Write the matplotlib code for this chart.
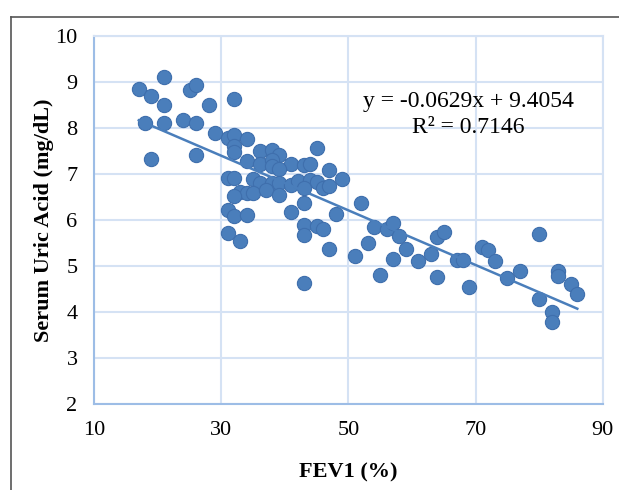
import matplotlib
matplotlib.use("Agg")
import matplotlib.pyplot as plt
import numpy as np
from matplotlib.lines import Line2D

# FEV1 (%) and serum uric acid (mg/dL)
fev1 = [17, 21, 19, 21, 25, 26, 28, 32, 18, 21, 24, 26, 29, 19, 26,
        31, 32, 34, 32, 32, 45, 36, 38, 39, 34, 36, 38, 38, 41, 43,
        44, 47, 39, 31, 32, 35, 36, 38, 39, 41, 42, 44, 45, 43, 46,
        47, 49, 33, 34, 35, 37, 39, 32, 43, 41, 48, 52, 31, 32, 34,
        43, 45, 46, 31, 33, 43, 47, 51, 43, 54, 56, 57, 58, 64, 65,
        53, 59, 57, 61, 63, 67, 68, 55, 64, 69, 71, 72, 73, 75, 77,
        80, 80, 83, 83, 82, 82, 85, 86]
uric = [8.86, 9.12, 8.71, 8.51, 8.84, 8.94, 8.50, 8.64, 8.11, 8.11, 8.17, 8.11, 7.90, 7.33, 7.43,
        7.78, 7.85, 7.77, 7.62, 7.48, 7.58, 7.50, 7.53, 7.42, 7.30, 7.23, 7.31, 7.17, 7.23, 7.21,
        7.23, 7.09, 7.12, 6.91, 6.91, 6.89, 6.82, 6.82, 6.82, 6.77, 6.86, 6.87, 6.84, 6.70, 6.70,
        6.74, 6.89, 6.62, 6.59, 6.59, 6.66, 6.54, 6.52, 6.37, 6.19, 6.13, 6.38, 6.22, 6.10, 6.12,
        5.89, 5.87, 5.81, 5.73, 5.55, 5.68, 5.37, 5.22, 4.64, 5.86, 5.81, 5.95, 5.66, 5.64, 5.75,
        5.50, 5.37, 5.16, 5.12, 5.26, 5.13, 5.13, 4.81, 4.77, 4.56, 5.43, 5.35, 5.12, 4.75, 4.90,
        5.70, 4.30, 4.90, 4.79, 4.01, 3.80, 4.61, 4.40]

x_ticks = [10, 30, 50, 70, 90]
y_ticks = [2, 3, 4, 5, 6, 7, 8, 9, 10]
eq_text = "y = -0.0629x + 9.4054"
r2_text = "R² = 0.7146"

plt.rcParams['font.family'] = ['Liberation Serif', 'DejaVu Serif']

fig = plt.figure(figsize=(6.19, 4.9), dpi=100)
ax = fig.add_axes([0.1523, 0.1749, 0.8214, 0.7510])

grid_col = '#d5e2f4'
axis_col = '#9dbde6'
pt_col = '#4a7ebb'

ax.scatter(fev1, uric, s=105, color=pt_col, edgecolor='#3f6fad', linewidth=0.8, zorder=3)

# linear trendline
coef = np.polyfit(fev1, uric, 1)
xs = np.array([min(fev1), max(fev1)])
ax.plot(xs, np.polyval(coef, xs), color='#4a7ebb', linewidth=1.8, zorder=4)

ax.set_xlim(10, 90)
ax.set_ylim(2, 10)
ax.set_xticks(x_ticks)
ax.set_yticks(y_ticks)
ax.grid(True, color=grid_col, linewidth=1.5, zorder=0)
ax.set_axisbelow(True)
for s in ['top', 'right']:
    ax.spines[s].set_color(grid_col)
    ax.spines[s].set_linewidth(1.5)
for s in ['left', 'bottom']:
    ax.spines[s].set_color(axis_col)
    ax.spines[s].set_linewidth(1.5)
ax.tick_params(length=0, labelsize=16, pad=12, colors='black')

ax.set_xlabel("FEV1 (%)", fontsize=16, fontweight='bold', labelpad=16)
ax.set_ylabel("Serum Uric Acid (mg/dL)", fontsize=16, fontweight='bold', labelpad=1)

ax.text(0.735, 0.787, eq_text + "\n" + r2_text, transform=ax.transAxes,
        ha='center', va='center', fontsize=17, linespacing=1.3)

# chart area border (left and top edges visible)
fig.add_artist(Line2D([11/619, 11/619], [0, 1 - 17/490], color='#555555', linewidth=1.2))
fig.add_artist(Line2D([11/619, 1], [1 - 17/490, 1 - 17/490], color='#555555', linewidth=1.2))

fig.savefig("out.png", dpi=100)
